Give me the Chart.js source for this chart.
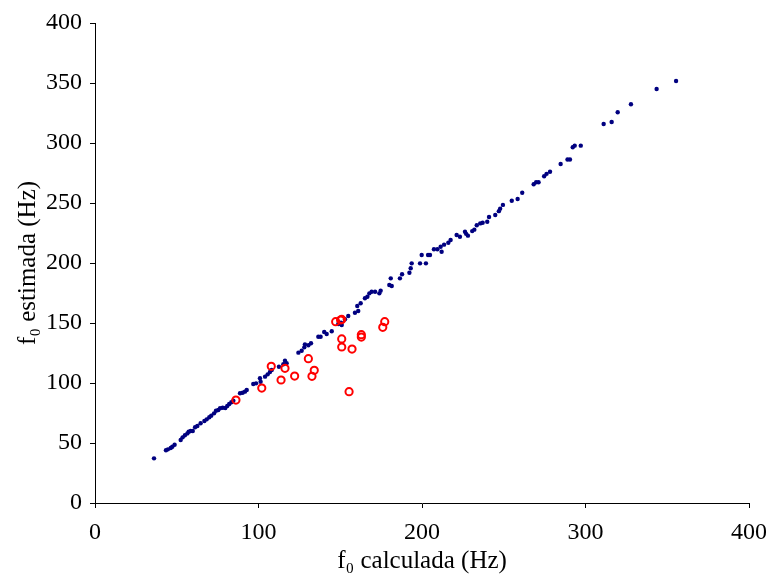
<!DOCTYPE html>
<html>
<head>
<meta charset="utf-8">
<script src="https://cdn.jsdelivr.net/npm/chart.js@4/dist/chart.umd.min.js"></script>
<style>
html,body{margin:0;padding:0;background:#fff;}
#c{display:block;}
</style>
</head>
<body>
<canvas id="c" width="766" height="576"></canvas>
<script>
// Data
const blueX = [36.1,43.4,44.6,46.3,47.3,48.7,52.4,53.6,55,56.5,57.3,58.5,59.8,61.2,62.6,64.6,66.9,68.3,69.9,71.1,72.8,74,75.4,76.5,78.1,79.7,80.9,82.1,83.4,84.6,88.7,90.3,91.7,92.8,96.8,98.5,101.3,
  100.9,104,105.6,107,108.1,112.5,115.2,116.2,117.2,124.4,126.4,128,128.4,130.5,132.1,136.6,138,140.2,141.7,144.8,148.8,150.5,150.9,152.9,154.9,159,161,
  160.4,162.5,165.1,166.6,167.8,169.2,171.3,173.9,174.7,180,181.5,180.9,186.5,187.8,192.3,193.1,193.7,198.8,202.4,199.8,203.7,204.9,207.3,209.4,211.4,212,213.5,216.1,217.5,221.2,223.2,226.3,
  227,228.1,230.7,232,233.5,235.6,237.1,239.9,241,244.8,247,247.8,249.5,254.9,258.5,261.3,268.3,269.8,271.3,274.7,276.2,278.3,284.8,289,290.5,
  292.2,293.4,297.1,311.1,316,319.7,327.8,343.5,355.4];
const blueY = [37.2,43.9,44.7,45.8,46.9,48.6,52.5,54.7,56.4,58,59.4,60,60,63.1,64.2,66.4,68.3,69.7,71.4,72.8,74.7,76.9,77.5,78.9,79.4,79.2,80.8,82.5,83.9,85.2,91.4,91.9,92.8,94.2,99.2,99.7,101.1,
  103.9,105.3,107.2,109.2,110.8,113.6,115.6,118.6,116.4,125.3,126.9,129.7,132.2,131.4,133.1,138.6,138.6,142.5,140.8,143.1,149.2,150.3,148.3,153.1,155.8,158.6,160,
  164.2,166.4,170.6,171.9,174.7,176.1,176.1,174.7,176.9,181.7,180.8,187.2,187.2,190.6,191.9,195.6,199.7,199.7,199.7,206.7,206.7,206.7,211.4,211.4,213.6,209.4,215.3,216.9,219.2,223.3,221.9,226.1,
  224.3,222.8,226.6,227.8,231.5,233,233.6,234.4,238.3,240,243.2,245.3,248.4,251.9,253.3,258.6,265.6,267.3,267.3,272.3,274.3,276.1,282.5,286.3,286.3,
  296.4,297.8,297.8,315.8,317.5,325.6,332.3,345,351.7];
const redX = [86.2,102,107.8,113.8,116.2,122.1,130.5,134.1,132.7,147.2,150.2,150.9,150.9,150.9,157.2,162.9,162.9,177.2,176,155.4];
const redY = [85.8,95.8,113.9,102.5,112.2,105.8,120.3,110.6,105.6,151.1,152.5,153,136.7,130,128.3,140.3,138.3,151.1,146.4,92.8];
const xTitle = 'f\u2080 calculada (Hz)';
const yTitle = 'f\u2080 estimada (Hz)';

const toPts = (xs, ys) => xs.map((x, i) => ({x: x, y: ys[i]}));
const serif = "'Liberation Serif', 'Times New Roman', serif";

new Chart(document.getElementById('c'), {
  type: 'scatter',
  data: {
    datasets: [
      {
        data: toPts(blueX, blueY),
        backgroundColor: '#000080',
        borderColor: '#000080',
        borderWidth: 0,
        pointRadius: 2.2,
        order: 1
      },
      {
        data: toPts(redX, redY),
        backgroundColor: 'rgba(0,0,0,0)',
        borderColor: '#ff0000',
        borderWidth: 2,
        pointRadius: 3.6,
        order: 0
      }
    ]
  },
  options: {
    responsive: false,
    animation: false,
    devicePixelRatio: 1,
    layout: {padding: {top: 23, right: 17, left: 0, bottom: 0}},
    plugins: {legend: {display: false}, tooltip: {enabled: false}},
    scales: {
      x: {
        type: 'linear', min: 0, max: 400,
        afterFit: s => { s.height = 73; s.paddingRight = 0; s.paddingLeft = 0; },
        ticks: {stepSize: 100, color: '#000', padding: 10, maxRotation: 0, font: {family: serif, size: 24}},
        grid: {drawOnChartArea: false, drawTicks: true, tickLength: 5, tickColor: '#000'},
        border: {color: '#000', width: 1},
        title: {display: true, text: xTitle, color: '#000', padding: {top: 0, bottom: 0}, font: {family: serif, size: 25}}
      },
      y: {
        type: 'linear', min: 0, max: 400,
        afterFit: s => { s.width = 95; s.paddingTop = 0; s.paddingBottom = 0; },
        ticks: {stepSize: 50, color: '#000', padding: 8, font: {family: serif, size: 24}},
        grid: {drawOnChartArea: false, drawTicks: true, tickLength: 5, tickColor: '#000'},
        border: {color: '#000', width: 1},
        title: {display: true, text: yTitle, color: '#000', padding: {top: 13, bottom: 0}, font: {family: serif, size: 25}}
      }
    }
  }
});
</script>
</body>
</html>
